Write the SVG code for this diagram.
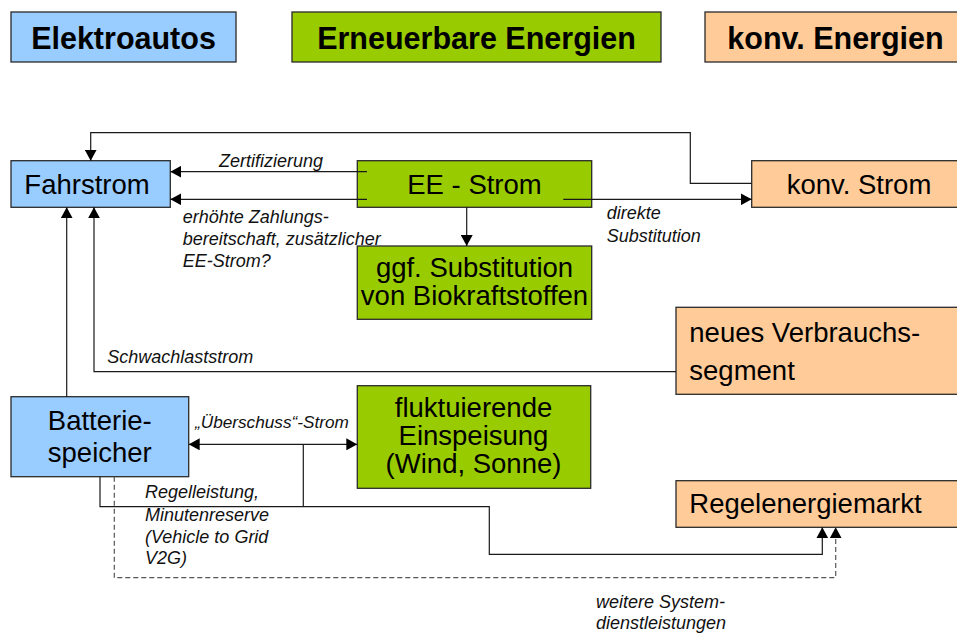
<svg xmlns="http://www.w3.org/2000/svg" width="957" height="634" viewBox="0 0 957 634">
<style>
.box{stroke:#2a2a2a;stroke-width:1.3}
.blue{fill:#99ccff}
.green{fill:#99cc00}
.orange{fill:#ffcc99}
.hd{font-family:"Liberation Sans",Arial,sans-serif;font-weight:bold;font-size:30.5px;fill:#000;text-anchor:middle}
.nt{font-family:"Liberation Sans",Arial,sans-serif;font-size:27.5px;fill:#000}
.c{text-anchor:middle}
.lb{font-family:"Liberation Sans",Arial,sans-serif;font-style:italic;font-size:18px;fill:#111}
.sm{font-size:17.2px}
.ln{fill:none;stroke:#1a1a1a;stroke-width:1.2}
.dash{stroke-dasharray:5 3;stroke:#555}
</style>
<defs>
<marker id="ah" viewBox="0 0 11 12" refX="11" refY="6" markerWidth="11" markerHeight="12" markerUnits="userSpaceOnUse" orient="auto-start-reverse">
<path d="M0,0 L11,6 L0,12 z" fill="#000"/>
</marker>
</defs>
<rect width="957" height="634" fill="#fff"/>

<g id="hdr-elektroautos"><rect class="box blue" x="11" y="12" width="225" height="50"/><text class="hd" x="123.5" y="49">Elektroautos</text></g>
<g id="hdr-erneuerbare"><rect class="box green" x="292" y="12" width="369" height="50"/><text class="hd" x="476.5" y="49">Erneuerbare Energien</text></g>
<g id="hdr-konv"><rect class="box orange" x="705" y="12" width="262" height="50"/><text class="hd" x="835.5" y="49">konv. Energien</text></g>

<g id="fahrstrom"><rect class="box blue" x="11" y="160.7" width="159.3" height="46.6"/><text class="nt c" x="87" y="194">Fahrstrom</text></g>
<g id="ee-strom"><rect class="box green" x="357.3" y="160.7" width="234.4" height="46.6"/><text class="nt c" x="474.5" y="193.5">EE - Strom</text></g>
<g id="konv-strom"><rect class="box orange" x="751.7" y="160.7" width="214" height="46.6"/><text class="nt c" x="859" y="193.5">konv. Strom</text></g>
<g id="ggf"><rect class="box green" x="357.3" y="246" width="234.4" height="73.3"/><text class="nt c" x="474.5" y="277">ggf. Substitution</text><text class="nt c" x="474.5" y="305">von Biokraftstoffen</text></g>
<g id="neues"><rect class="box orange" x="676" y="307.3" width="290" height="87"/><text class="nt" x="689.3" y="341.7">neues Verbrauchs-</text><text class="nt" x="689.3" y="380">segment</text></g>
<g id="batterie"><rect class="box blue" x="11" y="396.7" width="177.7" height="80"/><text class="nt c" x="99.8" y="430">Batterie-</text><text class="nt c" x="99.8" y="462.3">speicher</text></g>
<g id="fluktuierende"><rect class="box green" x="357.3" y="385.7" width="233.4" height="102.6"/><text class="nt c" x="473.5" y="416.7">fluktuierende</text><text class="nt c" x="473.5" y="445">Einspeisung</text><text class="nt c" x="473.5" y="473.3">(Wind, Sonne)</text></g>
<g id="regelenergiemarkt"><rect class="box orange" x="676" y="480.7" width="290" height="46.6"/><text class="nt" x="689.3" y="513.3">Regelenergiemarkt</text></g>

<g id="connectors">
<path class="ln" d="M751.7,183.3 H690.3 V132.7 H90.7 V160.7" marker-end="url(#ah)"/>
<path class="ln" d="M367,171.7 H170.3" marker-end="url(#ah)"/>
<path class="ln" d="M367,199.3 H170.3" marker-end="url(#ah)"/>
<path class="ln" d="M466.7,207.3 V246" marker-end="url(#ah)"/>
<path class="ln" d="M563.3,199.3 H751.7" marker-end="url(#ah)"/>
<path class="ln" d="M676,371.7 H94 V207.3" marker-end="url(#ah)"/>
<path class="ln" d="M66.7,396.7 V207.3" marker-end="url(#ah)"/>
<path class="ln" d="M188.7,444.3 H357.3" marker-start="url(#ah)" marker-end="url(#ah)"/>
<path class="ln" d="M100,476.7 V506.7 H489.3 V554.3 H822.3 V527.3" marker-end="url(#ah)"/>
<path class="ln" d="M303.3,444.3 V506.7"/>
<path class="ln dash" d="M114.3,476.7 V577.7 H835.7 V527.3" marker-end="url(#ah)"/>
</g>

<g id="labels">
<text class="lb" x="219" y="166.7">Zertifizierung</text>
<text class="lb" x="182.7" y="223.3">erhöhte Zahlungs-</text>
<text class="lb" x="182.7" y="245">bereitschaft, zusätzlicher</text>
<text class="lb" x="182.7" y="266.7">EE-Strom?</text>
<text class="lb" x="606.7" y="219">direkte</text>
<text class="lb" x="606.7" y="241.7">Substitution</text>
<text class="lb" x="107.3" y="362.7">Schwachlaststrom</text>
<text class="lb sm" x="195" y="428.3">„Überschuss“-Strom</text>
<text class="lb" x="145" y="498.3">Regelleistung,</text>
<text class="lb" x="145" y="520.5">Minutenreserve</text>
<text class="lb" x="145" y="542.5">(Vehicle to Grid</text>
<text class="lb" x="145" y="564">V2G)</text>
<text class="lb" x="596" y="607.7">weitere System-</text>
<text class="lb" x="596" y="629.3">dienstleistungen</text>
</g>
</svg>
